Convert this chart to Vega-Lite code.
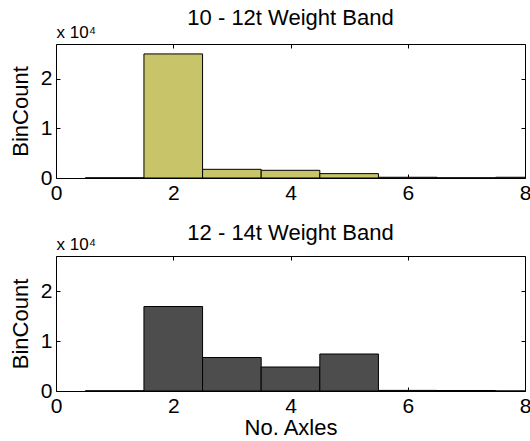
{
  "$schema": "https://vega.github.io/schema/vega-lite/v6.json",
  "background": "white",
  "padding": {"left": 8, "top": 6, "right": 0, "bottom": 0},
  "spacing": 17,
  "datasets": {
    "bins": [
      {"band": "10-12", "axles": 1, "lo": 0.5, "hi": 1.5, "count": 30},
      {"band": "10-12", "axles": 2, "lo": 1.5, "hi": 2.5, "count": 25000},
      {"band": "10-12", "axles": 3, "lo": 2.5, "hi": 3.5, "count": 1750},
      {"band": "10-12", "axles": 4, "lo": 3.5, "hi": 4.5, "count": 1550},
      {"band": "10-12", "axles": 5, "lo": 4.5, "hi": 5.5, "count": 880},
      {"band": "10-12", "axles": 6, "lo": 5.5, "hi": 6.5, "count": 150},
      {"band": "10-12", "axles": 7, "lo": 6.5, "hi": 7.5, "count": 40},
      {"band": "10-12", "axles": 8, "lo": 7.5, "hi": 8.5, "count": 150},
      {"band": "12-14", "axles": 1, "lo": 0.5, "hi": 1.5, "count": 30},
      {"band": "12-14", "axles": 2, "lo": 1.5, "hi": 2.5, "count": 16900},
      {"band": "12-14", "axles": 3, "lo": 2.5, "hi": 3.5, "count": 6700},
      {"band": "12-14", "axles": 4, "lo": 3.5, "hi": 4.5, "count": 4800},
      {"band": "12-14", "axles": 5, "lo": 4.5, "hi": 5.5, "count": 7400},
      {"band": "12-14", "axles": 6, "lo": 5.5, "hi": 6.5, "count": 120},
      {"band": "12-14", "axles": 7, "lo": 6.5, "hi": 7.5, "count": 100},
      {"band": "12-14", "axles": 8, "lo": 7.5, "hi": 8.5, "count": 0}
    ]
  },
  "config": {
    "font": "Liberation Sans",
    "view": {"stroke": "black", "strokeWidth": 1},
    "axis": {
      "domain": false,
      "grid": false,
      "tickColor": "black",
      "tickSize": -4,
      "minExtent": 0,
      "labelFlush": false,
      "labelOverlap": false,
      "labelFont": "Liberation Sans",
      "labelFontSize": 21,
      "labelColor": "black",
      "titleFont": "Liberation Sans",
      "titleFontWeight": "normal",
      "titleColor": "black",
      "titleFontSize": 22
    },
    "title": {"font": "Liberation Sans", "fontSize": 22, "fontWeight": "normal", "color": "black"}
  },
  "vconcat": [
    {
      "width": 469,
      "height": 134,
      "title": {"text": "10 - 12t Weight Band", "offset": -6},
      "data": {"name": "bins"},
      "transform": [{"filter": "datum.band === '10-12'"}],
      "resolve": {"axis": {"x": "independent", "y": "independent"}},
      "layer": [
        {
          "mark": {"type": "bar", "color": "#C8C46A", "stroke": "black", "strokeWidth": 1, "clip": true},
          "encoding": {
            "x": {"field": "lo", "type": "quantitative", "scale": {"domain": [0, 8], "nice": false},
              "axis": {"orient": "bottom", "values": [0, 2, 4, 6, 8], "title": null, "labelPadding": 8}},
            "x2": {"field": "hi"},
            "y": {"field": "count", "type": "quantitative", "scale": {"domain": [0, 27000], "nice": false},
              "axis": {"orient": "left", "values": [0, 10000, 20000], "labelExpr": "datum.value / 10000", "title": "BinCount", "labelPadding": 8, "titlePadding": 8}},
            "y2": {"datum": 0}
          }
        },
        {
          "mark": {"type": "bar", "opacity": 0, "clip": true},
          "encoding": {
            "x": {"field": "lo", "type": "quantitative", "scale": {"domain": [0, 8], "nice": false},
              "axis": {"orient": "top", "values": [0, 2, 4, 6, 8], "labels": false, "title": "x 10⁴", "titleFontSize": 17, "titleAnchor": "start", "titleAlign": "left", "titlePadding": 2}},
            "x2": {"field": "hi"},
            "y": {"field": "count", "type": "quantitative", "scale": {"domain": [0, 27000], "nice": false},
              "axis": {"orient": "right", "values": [0, 10000, 20000], "labels": false, "title": null}},
            "y2": {"datum": 0}
          }
        }
      ]
    },
    {
      "width": 469,
      "height": 135,
      "title": {"text": "12 - 14t Weight Band", "offset": -9},
      "data": {"name": "bins"},
      "transform": [{"filter": "datum.band === '12-14'"}],
      "resolve": {"axis": {"x": "independent", "y": "independent"}},
      "layer": [
        {
          "mark": {"type": "bar", "color": "#4D4D4D", "stroke": "black", "strokeWidth": 1, "clip": true},
          "encoding": {
            "x": {"field": "lo", "type": "quantitative", "scale": {"domain": [0, 8], "nice": false},
              "axis": {"orient": "bottom", "values": [0, 2, 4, 6, 8], "title": "No. Axles", "labelPadding": 8, "titlePadding": 1}},
            "x2": {"field": "hi"},
            "y": {"field": "count", "type": "quantitative", "scale": {"domain": [0, 27000], "nice": false},
              "axis": {"orient": "left", "values": [0, 10000, 20000], "labelExpr": "datum.value / 10000", "title": "BinCount", "labelPadding": 8, "titlePadding": 8}},
            "y2": {"datum": 0}
          }
        },
        {
          "mark": {"type": "bar", "opacity": 0, "clip": true},
          "encoding": {
            "x": {"field": "lo", "type": "quantitative", "scale": {"domain": [0, 8], "nice": false},
              "axis": {"orient": "top", "values": [0, 2, 4, 6, 8], "labels": false, "title": "x 10⁴", "titleFontSize": 17, "titleAnchor": "start", "titleAlign": "left", "titlePadding": 2}},
            "x2": {"field": "hi"},
            "y": {"field": "count", "type": "quantitative", "scale": {"domain": [0, 27000], "nice": false},
              "axis": {"orient": "right", "values": [0, 10000, 20000], "labels": false, "title": null}},
            "y2": {"datum": 0}
          }
        }
      ]
    }
  ]
}
